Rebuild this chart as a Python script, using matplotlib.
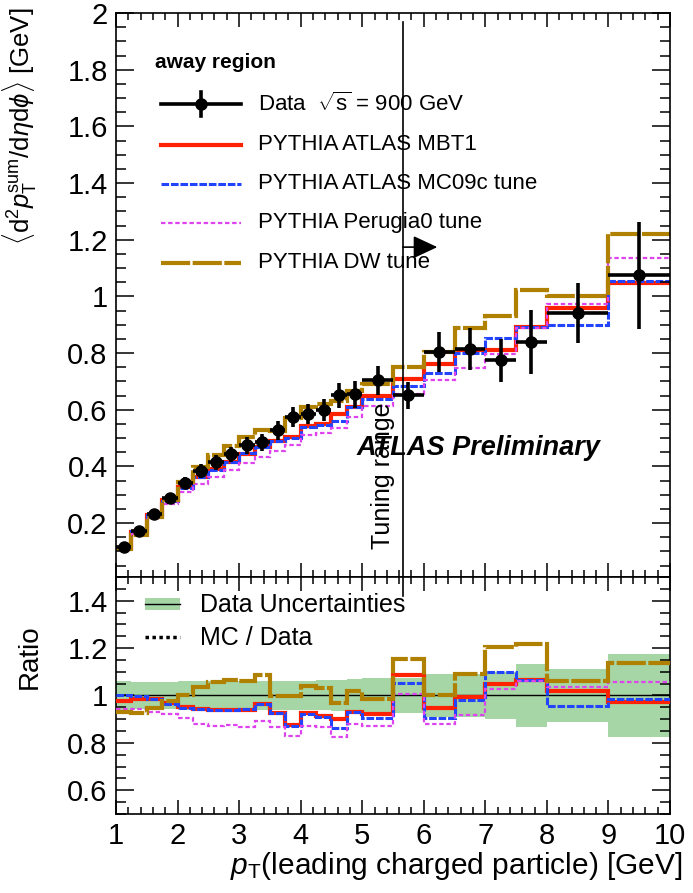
import numpy as np
import matplotlib
matplotlib.use('Agg')
import matplotlib.pyplot as plt
from matplotlib.ticker import MultipleLocator, FuncFormatter

plt.rcParams['font.family'] = ['Liberation Sans', 'DejaVu Sans']
plt.rcParams['mathtext.fontset'] = 'custom'
plt.rcParams['mathtext.rm'] = 'Liberation Sans'
plt.rcParams['mathtext.it'] = 'Liberation Sans:italic'
plt.rcParams['mathtext.bf'] = 'Liberation Sans:bold'

# ---------------- data ----------------
edges = [1.0, 1.25, 1.5, 1.75, 2.0, 2.25, 2.5, 2.75, 3.0, 3.25, 3.5, 3.75, 4.0,
         4.25, 4.5, 4.75, 5.0, 5.5, 6.0, 6.5, 7.0, 7.5, 8.0, 9.0, 10.0]
data = [0.115, 0.172, 0.233, 0.290, 0.343, 0.384, 0.415, 0.443, 0.474, 0.486,
        0.527, 0.574, 0.586, 0.600, 0.651, 0.654, 0.704, 0.651, 0.804, 0.816,
        0.774, 0.839, 0.941, 1.074]
data_err = [0.007, 0.010, 0.0135, 0.017, 0.021, 0.024, 0.026, 0.027, 0.029, 0.030,
            0.033, 0.036, 0.036, 0.038, 0.043, 0.046, 0.051, 0.047, 0.072, 0.074,
            0.077, 0.113, 0.105, 0.19]
ratio_mbt1 = [0.976, 0.983, 0.987, 0.969, 0.951, 0.942, 0.939, 0.939, 0.940, 0.962,
              0.928, 0.876, 0.924, 0.914, 0.900, 0.932, 0.921, 1.087, 0.949, 0.993,
              1.049, 1.065, 1.018, 0.974]
ratio_mc09c = [1.004, 0.997, 0.987, 0.962, 0.949, 0.942, 0.937, 0.940, 0.942, 0.962,
               0.928, 0.872, 0.921, 0.910, 0.862, 0.932, 0.907, 1.053, 0.907, 0.979,
               1.101, 1.065, 0.956, 0.983]
ratio_perugia0 = [0.942, 0.942, 0.932, 0.921, 0.904, 0.879, 0.872, 0.876, 0.868, 0.893,
                  0.865, 0.830, 0.872, 0.865, 0.824, 0.879, 0.872, 1.007, 0.879, 0.918,
                  1.029, 1.060, 1.035, 1.056]
ratio_dw = [0.932, 0.924, 0.949, 0.976, 1.004, 1.035, 1.057, 1.067, 1.062, 1.085,
            0.997, 0.997, 1.039, 1.032, 0.969, 1.018, 0.983, 1.154, 1.001, 1.090,
            1.204, 1.218, 1.063, 1.136]
tuning_min = 5.66

labels = ['PYTHIA ATLAS MBT1', 'PYTHIA ATLAS MC09c tune',
          'PYTHIA Perugia0 tune', 'PYTHIA DW tune']

# ---------------- derived ----------------
e = np.array(edges)
d = np.array(data)
de = np.array(data_err)
centers = 0.5 * (e[1:] + e[:-1])
halfw = 0.5 * (e[1:] - e[:-1])
ratios = [np.array(r) for r in (ratio_mbt1, ratio_mc09c, ratio_perugia0, ratio_dw)]
mc = [r * d for r in ratios]
rel = de / d

styles = [
    dict(color='#ff2200', lw=3.0, ls='-'),
    dict(color='#2244ff', lw=2.2, ls=(0, (2.5, 0.6))),
    dict(color='#dd44ee', lw=1.6, ls=(0, (2.0, 1.2))),
    dict(color='#b08000', lw=3.0, ls=(0, (7, 0.6))),
]

fig = plt.figure(figsize=(6.93, 8.93), dpi=100)
ax1 = fig.add_axes([0.1674, 0.3539, 0.7994, 0.6315])
ax2 = fig.add_axes([0.1674, 0.0885, 0.7994, 0.2654])

fmt = FuncFormatter(lambda v, p: '%g' % round(v, 3))
for ax in (ax1, ax2):
    ax.set_xlim(1, 10)
    ax.xaxis.set_major_locator(MultipleLocator(1))
    ax.xaxis.set_minor_locator(MultipleLocator(0.2))
    ax.tick_params(which='both', direction='in', top=True, right=True, labelsize=21)
    ax.tick_params(axis='x', which='major', length=10, width=1.1, pad=6)
    ax.tick_params(axis='x', which='minor', length=5, width=1.1)
    ax.tick_params(axis='y', which='major', length=13, width=1.1, pad=6)
    ax.tick_params(axis='y', which='minor', length=7, width=1.1)
    for s in ax.spines.values():
        s.set_linewidth(1.2)
    ax.yaxis.set_major_formatter(fmt)
    ax.xaxis.set_major_formatter(fmt)

# ---------------- top panel ----------------
ax1.set_ylim(0.01, 2.0)
ax1.yaxis.set_major_locator(MultipleLocator(0.2))
ax1.yaxis.set_minor_locator(MultipleLocator(0.05))
ax1.tick_params(axis='x', labelbottom=False)

for vals, st in zip(mc, styles):
    ax1.stairs(vals, e, baseline=None, color=st['color'], lw=st['lw'], ls=st['ls'])
ax1.errorbar(centers, d, xerr=halfw, yerr=de, fmt='o', color='k', ms=8,
             elinewidth=2.6, capsize=0, zorder=5)

ax1.plot([tuning_min, tuning_min], [0.01, 1.97], color='k', lw=1.2)
ax1.annotate('', xy=(6.22, 1.174), xytext=(tuning_min, 1.174),
             arrowprops=dict(arrowstyle='-|>,head_length=1.5,head_width=0.7',
                             color='k', lw=1.2, shrinkA=0, shrinkB=0))
ax1.text(5.34, 0.11, 'Tuning range', rotation=90, ha='center', va='bottom',
         fontsize=18)
ax1.text(0.435, 0.229, 'ATLAS Preliminary', transform=ax1.transAxes,
         fontsize=19.5, fontweight='bold', fontstyle='italic', va='center', ha='left')

# legend (top)
ax1.text(0.070, 0.913, 'away region', transform=ax1.transAxes, fontsize=15,
         fontweight='bold', va='center', ha='left')
lx0, lx1, tx = 0.081, 0.226, 0.256
rows = [0.839, 0.766, 0.697, 0.628, 0.557]
ax1.plot([lx0, lx1], [rows[0], rows[0]], color='k', lw=2.6, transform=ax1.transAxes)
ax1.plot([(lx0 + lx1) / 2] * 2, [rows[0] - 0.021, rows[0] + 0.021], color='k', lw=2.6,
         transform=ax1.transAxes)
ax1.plot([(lx0 + lx1) / 2], [rows[0]], 'o', color='k', ms=8, transform=ax1.transAxes)
ax1.text(tx, rows[0], r'Data  $\sqrt{\mathrm{s}}$ = 900 GeV', transform=ax1.transAxes,
         fontsize=16, va='center', ha='left')
for y, st, lab in zip(rows[1:], styles, labels):
    ax1.plot([lx0, lx1], [y, y], color=st['color'], lw=st['lw'], ls=st['ls'],
             transform=ax1.transAxes)
    ax1.text(tx, y, lab, transform=ax1.transAxes, fontsize=16, va='center', ha='left')

# ---------------- ratio panel ----------------
ax2.set_ylim(0.5, 1.5)
ax2.yaxis.set_major_locator(MultipleLocator(0.2))
ax2.yaxis.set_minor_locator(MultipleLocator(0.05))
ax2.set_yticks([0.6, 0.8, 1.0, 1.2, 1.4])

green = '#a6d5a6'
ax2.stairs(1 + rel, e, baseline=1 - rel, fill=True, color=green, lw=0, zorder=1)
ax2.axhline(1.0, color='k', lw=1.0, zorder=2)
for r, st in zip(ratios, styles):
    ax2.stairs(r, e, baseline=None, color=st['color'], lw=st['lw'], ls=st['ls'], zorder=3)
ax2.plot([tuning_min, tuning_min], [1.5, 1.42], color='k', lw=1.2)

# legend (ratio)
ax2.add_patch(plt.Rectangle((0.052, 0.862), 0.063, 0.05, transform=ax2.transAxes,
                            color=green, lw=0))
ax2.plot([0.052, 0.115], [0.887, 0.887], color='k', lw=1.0, transform=ax2.transAxes)
ax2.text(0.152, 0.880, 'Data Uncertainties', transform=ax2.transAxes, fontsize=18,
         va='center', ha='left')
ax2.plot([0.052, 0.115], [0.747, 0.747], color='k', lw=2.5, ls=(0, (1, 1)),
         transform=ax2.transAxes)
ax2.text(0.152, 0.742, 'MC / Data', transform=ax2.transAxes, fontsize=18,
         va='center', ha='left')

# axis titles
fig.text(683 / 693, 1 - 866 / 893, r'$p_{\mathrm{T}}$(leading charged particle) [GeV]',
         fontsize=21.5, ha='right', va='center')
fig.text(20 / 693, 1 - 8 / 893,
         r'$\langle$d$^{2}$$p_{\mathrm{T}}^{\mathrm{sum}}$/d$\eta$d$\phi\rangle$ [GeV]',
         fontsize=18.5, rotation=90, ha='center', va='top')
fig.text(30 / 693, 1 - 657 / 893, 'Ratio', fontsize=20, rotation=90,
         ha='center', va='center')

fig.savefig('out.png', dpi=100, facecolor='white')
